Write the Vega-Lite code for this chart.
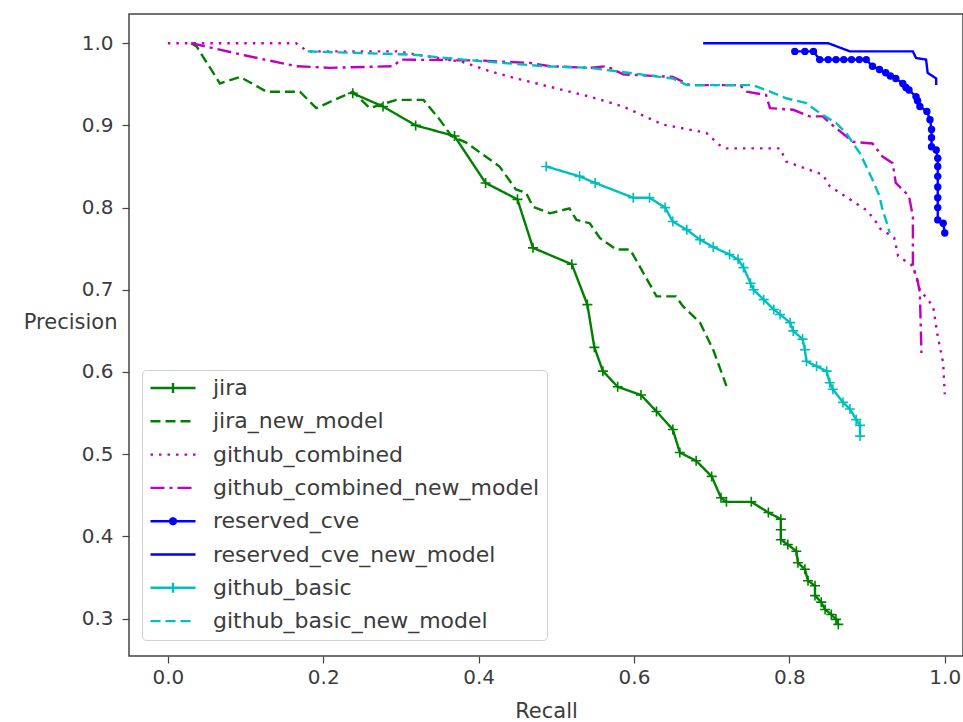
{
  "$schema": "https://vega.github.io/schema/vega-lite/v6.json",
  "width": 834,
  "height": 642,
  "autosize": {"type": "none"},
  "padding": {"left": 129, "top": 14, "right": 0, "bottom": 66},
  "background": "white",
  "config": {
    "view": {"stroke": "#444", "strokeWidth": 1.5},
    "font": "DejaVu Sans"
  },
  "data": {
    "values": [
      {"s": "jira", "x": 0.238, "y": 0.939}, {"s": "jira", "x": 0.277, "y": 0.923}, {"s": "jira", "x": 0.319, "y": 0.900}, {"s": "jira", "x": 0.369, "y": 0.887}, {"s": "jira", "x": 0.409, "y": 0.830}, {"s": "jira", "x": 0.450, "y": 0.810}, {"s": "jira", "x": 0.470, "y": 0.751}, {"s": "jira", "x": 0.520, "y": 0.731}, {"s": "jira", "x": 0.540, "y": 0.682}, {"s": "jira", "x": 0.549, "y": 0.630}, {"s": "jira", "x": 0.560, "y": 0.601}, {"s": "jira", "x": 0.579, "y": 0.582}, {"s": "jira", "x": 0.609, "y": 0.572}, {"s": "jira", "x": 0.629, "y": 0.552}, {"s": "jira", "x": 0.650, "y": 0.530}, {"s": "jira", "x": 0.659, "y": 0.502}, {"s": "jira", "x": 0.680, "y": 0.492}, {"s": "jira", "x": 0.700, "y": 0.473}, {"s": "jira", "x": 0.712, "y": 0.447}, {"s": "jira", "x": 0.719, "y": 0.442}, {"s": "jira", "x": 0.751, "y": 0.442}, {"s": "jira", "x": 0.773, "y": 0.429}, {"s": "jira", "x": 0.789, "y": 0.421}, {"s": "jira", "x": 0.789, "y": 0.408}, {"s": "jira", "x": 0.789, "y": 0.396}, {"s": "jira", "x": 0.798, "y": 0.390}, {"s": "jira", "x": 0.809, "y": 0.382}, {"s": "jira", "x": 0.811, "y": 0.368}, {"s": "jira", "x": 0.820, "y": 0.360}, {"s": "jira", "x": 0.824, "y": 0.346}, {"s": "jira", "x": 0.833, "y": 0.340}, {"s": "jira", "x": 0.833, "y": 0.328}, {"s": "jira", "x": 0.841, "y": 0.320}, {"s": "jira", "x": 0.846, "y": 0.311}, {"s": "jira", "x": 0.854, "y": 0.305}, {"s": "jira", "x": 0.860, "y": 0.299}, {"s": "jira", "x": 0.863, "y": 0.293},

      {"s": "jira_new_model", "x": 0.030, "y": 1.000}, {"s": "jira_new_model", "x": 0.037, "y": 0.996}, {"s": "jira_new_model", "x": 0.067, "y": 0.951}, {"s": "jira_new_model", "x": 0.093, "y": 0.959}, {"s": "jira_new_model", "x": 0.127, "y": 0.941}, {"s": "jira_new_model", "x": 0.170, "y": 0.941}, {"s": "jira_new_model", "x": 0.191, "y": 0.921}, {"s": "jira_new_model", "x": 0.238, "y": 0.941}, {"s": "jira_new_model", "x": 0.260, "y": 0.921}, {"s": "jira_new_model", "x": 0.294, "y": 0.931}, {"s": "jira_new_model", "x": 0.329, "y": 0.931}, {"s": "jira_new_model", "x": 0.350, "y": 0.907}, {"s": "jira_new_model", "x": 0.365, "y": 0.887}, {"s": "jira_new_model", "x": 0.384, "y": 0.879}, {"s": "jira_new_model", "x": 0.427, "y": 0.850}, {"s": "jira_new_model", "x": 0.448, "y": 0.822}, {"s": "jira_new_model", "x": 0.461, "y": 0.818}, {"s": "jira_new_model", "x": 0.470, "y": 0.801}, {"s": "jira_new_model", "x": 0.492, "y": 0.793}, {"s": "jira_new_model", "x": 0.517, "y": 0.799}, {"s": "jira_new_model", "x": 0.526, "y": 0.785}, {"s": "jira_new_model", "x": 0.543, "y": 0.781}, {"s": "jira_new_model", "x": 0.556, "y": 0.763}, {"s": "jira_new_model", "x": 0.577, "y": 0.749}, {"s": "jira_new_model", "x": 0.595, "y": 0.749}, {"s": "jira_new_model", "x": 0.607, "y": 0.729}, {"s": "jira_new_model", "x": 0.629, "y": 0.692}, {"s": "jira_new_model", "x": 0.654, "y": 0.692}, {"s": "jira_new_model", "x": 0.663, "y": 0.680}, {"s": "jira_new_model", "x": 0.685, "y": 0.660}, {"s": "jira_new_model", "x": 0.702, "y": 0.627}, {"s": "jira_new_model", "x": 0.719, "y": 0.583},

      {"s": "github_combined", "x": 0.000, "y": 1.000}, {"s": "github_combined", "x": 0.165, "y": 1.000}, {"s": "github_combined", "x": 0.180, "y": 0.990}, {"s": "github_combined", "x": 0.295, "y": 0.990}, {"s": "github_combined", "x": 0.380, "y": 0.977}, {"s": "github_combined", "x": 0.414, "y": 0.966}, {"s": "github_combined", "x": 0.449, "y": 0.957}, {"s": "github_combined", "x": 0.483, "y": 0.949}, {"s": "github_combined", "x": 0.543, "y": 0.935}, {"s": "github_combined", "x": 0.586, "y": 0.923}, {"s": "github_combined", "x": 0.637, "y": 0.901}, {"s": "github_combined", "x": 0.693, "y": 0.891}, {"s": "github_combined", "x": 0.710, "y": 0.876}, {"s": "github_combined", "x": 0.719, "y": 0.872}, {"s": "github_combined", "x": 0.788, "y": 0.872}, {"s": "github_combined", "x": 0.796, "y": 0.856}, {"s": "github_combined", "x": 0.843, "y": 0.840}, {"s": "github_combined", "x": 0.852, "y": 0.826}, {"s": "github_combined", "x": 0.899, "y": 0.797}, {"s": "github_combined", "x": 0.910, "y": 0.785}, {"s": "github_combined", "x": 0.916, "y": 0.775}, {"s": "github_combined", "x": 0.935, "y": 0.763}, {"s": "github_combined", "x": 0.940, "y": 0.741}, {"s": "github_combined", "x": 0.959, "y": 0.729}, {"s": "github_combined", "x": 0.968, "y": 0.700}, {"s": "github_combined", "x": 0.985, "y": 0.680}, {"s": "github_combined", "x": 0.991, "y": 0.643}, {"s": "github_combined", "x": 0.998, "y": 0.611}, {"s": "github_combined", "x": 1.000, "y": 0.573},

      {"s": "github_combined_new_model", "x": 0.030, "y": 1.000}, {"s": "github_combined_new_model", "x": 0.100, "y": 0.985}, {"s": "github_combined_new_model", "x": 0.165, "y": 0.972}, {"s": "github_combined_new_model", "x": 0.208, "y": 0.970}, {"s": "github_combined_new_model", "x": 0.290, "y": 0.972}, {"s": "github_combined_new_model", "x": 0.300, "y": 0.980}, {"s": "github_combined_new_model", "x": 0.400, "y": 0.979}, {"s": "github_combined_new_model", "x": 0.466, "y": 0.976}, {"s": "github_combined_new_model", "x": 0.492, "y": 0.972}, {"s": "github_combined_new_model", "x": 0.543, "y": 0.970}, {"s": "github_combined_new_model", "x": 0.565, "y": 0.972}, {"s": "github_combined_new_model", "x": 0.586, "y": 0.962}, {"s": "github_combined_new_model", "x": 0.650, "y": 0.959}, {"s": "github_combined_new_model", "x": 0.672, "y": 0.949}, {"s": "github_combined_new_model", "x": 0.736, "y": 0.949}, {"s": "github_combined_new_model", "x": 0.745, "y": 0.941}, {"s": "github_combined_new_model", "x": 0.770, "y": 0.937}, {"s": "github_combined_new_model", "x": 0.775, "y": 0.921}, {"s": "github_combined_new_model", "x": 0.805, "y": 0.919}, {"s": "github_combined_new_model", "x": 0.826, "y": 0.911}, {"s": "github_combined_new_model", "x": 0.843, "y": 0.911}, {"s": "github_combined_new_model", "x": 0.852, "y": 0.903}, {"s": "github_combined_new_model", "x": 0.882, "y": 0.880}, {"s": "github_combined_new_model", "x": 0.907, "y": 0.878}, {"s": "github_combined_new_model", "x": 0.920, "y": 0.862}, {"s": "github_combined_new_model", "x": 0.933, "y": 0.854}, {"s": "github_combined_new_model", "x": 0.937, "y": 0.830}, {"s": "github_combined_new_model", "x": 0.954, "y": 0.814}, {"s": "github_combined_new_model", "x": 0.959, "y": 0.789}, {"s": "github_combined_new_model", "x": 0.959, "y": 0.729}, {"s": "github_combined_new_model", "x": 0.965, "y": 0.712}, {"s": "github_combined_new_model", "x": 0.968, "y": 0.696}, {"s": "github_combined_new_model", "x": 0.970, "y": 0.623},

      {"s": "reserved_cve", "x": 0.807, "y": 0.990}, {"s": "reserved_cve", "x": 0.820, "y": 0.990}, {"s": "reserved_cve", "x": 0.831, "y": 0.990}, {"s": "reserved_cve", "x": 0.839, "y": 0.980}, {"s": "reserved_cve", "x": 0.850, "y": 0.980}, {"s": "reserved_cve", "x": 0.860, "y": 0.980}, {"s": "reserved_cve", "x": 0.870, "y": 0.980}, {"s": "reserved_cve", "x": 0.880, "y": 0.980}, {"s": "reserved_cve", "x": 0.890, "y": 0.980}, {"s": "reserved_cve", "x": 0.899, "y": 0.980}, {"s": "reserved_cve", "x": 0.907, "y": 0.972}, {"s": "reserved_cve", "x": 0.916, "y": 0.968}, {"s": "reserved_cve", "x": 0.924, "y": 0.964}, {"s": "reserved_cve", "x": 0.930, "y": 0.960}, {"s": "reserved_cve", "x": 0.937, "y": 0.957}, {"s": "reserved_cve", "x": 0.946, "y": 0.951}, {"s": "reserved_cve", "x": 0.950, "y": 0.946}, {"s": "reserved_cve", "x": 0.954, "y": 0.943}, {"s": "reserved_cve", "x": 0.963, "y": 0.935}, {"s": "reserved_cve", "x": 0.965, "y": 0.930}, {"s": "reserved_cve", "x": 0.968, "y": 0.923}, {"s": "reserved_cve", "x": 0.977, "y": 0.917}, {"s": "reserved_cve", "x": 0.981, "y": 0.907}, {"s": "reserved_cve", "x": 0.983, "y": 0.895}, {"s": "reserved_cve", "x": 0.983, "y": 0.885}, {"s": "reserved_cve", "x": 0.983, "y": 0.874}, {"s": "reserved_cve", "x": 0.989, "y": 0.870}, {"s": "reserved_cve", "x": 0.991, "y": 0.860}, {"s": "reserved_cve", "x": 0.991, "y": 0.850}, {"s": "reserved_cve", "x": 0.991, "y": 0.838}, {"s": "reserved_cve", "x": 0.991, "y": 0.825}, {"s": "reserved_cve", "x": 0.991, "y": 0.812}, {"s": "reserved_cve", "x": 0.991, "y": 0.800}, {"s": "reserved_cve", "x": 0.991, "y": 0.785}, {"s": "reserved_cve", "x": 0.998, "y": 0.781}, {"s": "reserved_cve", "x": 1.000, "y": 0.769},

      {"s": "reserved_cve_new_model", "x": 0.689, "y": 1.000}, {"s": "reserved_cve_new_model", "x": 0.850, "y": 1.000}, {"s": "reserved_cve_new_model", "x": 0.878, "y": 0.990}, {"s": "reserved_cve_new_model", "x": 0.959, "y": 0.990}, {"s": "reserved_cve_new_model", "x": 0.963, "y": 0.982}, {"s": "reserved_cve_new_model", "x": 0.976, "y": 0.980}, {"s": "reserved_cve_new_model", "x": 0.978, "y": 0.964}, {"s": "reserved_cve_new_model", "x": 0.989, "y": 0.957}, {"s": "reserved_cve_new_model", "x": 0.989, "y": 0.949},

      {"s": "github_basic", "x": 0.487, "y": 0.850}, {"s": "github_basic", "x": 0.530, "y": 0.838}, {"s": "github_basic", "x": 0.550, "y": 0.830}, {"s": "github_basic", "x": 0.599, "y": 0.812}, {"s": "github_basic", "x": 0.620, "y": 0.812}, {"s": "github_basic", "x": 0.640, "y": 0.800}, {"s": "github_basic", "x": 0.650, "y": 0.783}, {"s": "github_basic", "x": 0.668, "y": 0.773}, {"s": "github_basic", "x": 0.685, "y": 0.761}, {"s": "github_basic", "x": 0.702, "y": 0.752}, {"s": "github_basic", "x": 0.723, "y": 0.743}, {"s": "github_basic", "x": 0.734, "y": 0.737}, {"s": "github_basic", "x": 0.741, "y": 0.727}, {"s": "github_basic", "x": 0.750, "y": 0.708}, {"s": "github_basic", "x": 0.754, "y": 0.700}, {"s": "github_basic", "x": 0.767, "y": 0.688}, {"s": "github_basic", "x": 0.780, "y": 0.676}, {"s": "github_basic", "x": 0.788, "y": 0.670}, {"s": "github_basic", "x": 0.801, "y": 0.660}, {"s": "github_basic", "x": 0.805, "y": 0.650}, {"s": "github_basic", "x": 0.817, "y": 0.640}, {"s": "github_basic", "x": 0.820, "y": 0.627}, {"s": "github_basic", "x": 0.822, "y": 0.613}, {"s": "github_basic", "x": 0.835, "y": 0.607}, {"s": "github_basic", "x": 0.848, "y": 0.601}, {"s": "github_basic", "x": 0.852, "y": 0.587}, {"s": "github_basic", "x": 0.856, "y": 0.579}, {"s": "github_basic", "x": 0.869, "y": 0.563}, {"s": "github_basic", "x": 0.878, "y": 0.555}, {"s": "github_basic", "x": 0.886, "y": 0.542}, {"s": "github_basic", "x": 0.891, "y": 0.535}, {"s": "github_basic", "x": 0.891, "y": 0.522},

      {"s": "github_basic_new_model", "x": 0.180, "y": 0.990}, {"s": "github_basic_new_model", "x": 0.316, "y": 0.986}, {"s": "github_basic_new_model", "x": 0.380, "y": 0.980}, {"s": "github_basic_new_model", "x": 0.483, "y": 0.972}, {"s": "github_basic_new_model", "x": 0.543, "y": 0.970}, {"s": "github_basic_new_model", "x": 0.650, "y": 0.957}, {"s": "github_basic_new_model", "x": 0.668, "y": 0.949}, {"s": "github_basic_new_model", "x": 0.753, "y": 0.949}, {"s": "github_basic_new_model", "x": 0.775, "y": 0.941}, {"s": "github_basic_new_model", "x": 0.796, "y": 0.933}, {"s": "github_basic_new_model", "x": 0.822, "y": 0.927}, {"s": "github_basic_new_model", "x": 0.839, "y": 0.915}, {"s": "github_basic_new_model", "x": 0.860, "y": 0.903}, {"s": "github_basic_new_model", "x": 0.873, "y": 0.891}, {"s": "github_basic_new_model", "x": 0.882, "y": 0.878}, {"s": "github_basic_new_model", "x": 0.891, "y": 0.866}, {"s": "github_basic_new_model", "x": 0.899, "y": 0.850}, {"s": "github_basic_new_model", "x": 0.907, "y": 0.834}, {"s": "github_basic_new_model", "x": 0.916, "y": 0.814}, {"s": "github_basic_new_model", "x": 0.920, "y": 0.797}, {"s": "github_basic_new_model", "x": 0.927, "y": 0.777}, {"s": "github_basic_new_model", "x": 0.929, "y": 0.769}
    ]
  },
  "encoding": {
    "x": {
      "field": "x", "type": "quantitative",
      "scale": {"domain": [-0.05, 1.0235], "nice": false, "zero": false},
      "axis": {
        "values": [0, 0.2, 0.4, 0.6, 0.8, 1.0], "format": ".1f", "title": "Recall",
        "grid": false, "domain": false, "tickSize": 7, "tickColor": "#444", "tickWidth": 1.2,
        "labelFontSize": 20, "labelColor": "#3c3c3c", "labelPadding": 4, "labelFlush": false,
        "titleFontSize": 21, "titleFontWeight": "normal", "titleColor": "#3c3c3c", "titlePadding": 13
      }
    },
    "y": {
      "field": "y", "type": "quantitative",
      "scale": {"domain": [0.2545, 1.0355], "nice": false, "zero": false},
      "axis": {
        "values": [0.3, 0.4, 0.5, 0.6, 0.7, 0.8, 0.9, 1.0], "format": ".1f", "title": "Precision",
        "grid": false, "domain": false, "tickSize": 7, "tickColor": "#444", "tickWidth": 1.2,
        "labelFontSize": 20, "labelColor": "#3c3c3c", "labelPadding": 9, "labelFlush": false,
        "titleFontSize": 21, "titleFontWeight": "normal", "titleColor": "#3c3c3c",
        "titleAngle": 0, "titleAlign": "right", "titleBaseline": "middle", "titleX": -12, "titleY": 308
      }
    }
  },
  "layer": [
    {
      "mark": {"type": "line", "strokeWidth": 2.4, "clip": true},
      "encoding": {
        "color": {
          "field": "s", "type": "nominal",
          "scale": {
            "domain": ["jira", "jira_new_model", "github_combined", "github_combined_new_model", "reserved_cve", "reserved_cve_new_model", "github_basic", "github_basic_new_model"],
            "range": ["#008000", "#008000", "#bf00bf", "#bf00bf", "#0000ff", "#0000ff", "#00bfbf", "#00bfbf"]
          },
          "legend": {
            "title": null, "orient": "none", "legendX": 13, "legendY": 356,
            "symbolType": "stroke", "symbolSize": 2025, "symbolStrokeWidth": 2.4, "symbolOffset": 0,
            "clipHeight": 22, "rowPadding": 11.3, "padding": 7,
            "labelFontSize": 22, "labelColor": "#3c3c3c", "labelOffset": 16, "labelLimit": 500,
            "strokeColor": "#d0d0d0", "fillColor": "white", "cornerRadius": 4,
            "encode": {
              "symbols": {
                "update": {
                  "shape": {"signal": "datum.value === 'jira' || datum.value === 'github_basic' ? 'M-1,0H1M0,-0.22V0.22' : datum.value === 'reserved_cve' ? 'M-1,0H1M-0.13,0A0.13,0.13,0,1,1,0.13,0A0.13,0.13,0,1,1,-0.13,0Z' : 'stroke'"},
                  "fill": {"signal": "datum.value === 'reserved_cve' ? '#0000ff' : 'transparent'"},
                  "strokeDash": {"signal": "datum.value === 'jira_new_model' || datum.value === 'github_basic_new_model' ? [10, 5] : datum.value === 'github_combined' ? [2.5, 6] : datum.value === 'github_combined_new_model' ? [14, 5, 3, 5] : [1, 0]"}
                }
              }
            }
          }
        },
        "strokeDash": {
          "field": "s", "type": "nominal",
          "scale": {
            "domain": ["jira", "jira_new_model", "github_combined", "github_combined_new_model", "reserved_cve", "reserved_cve_new_model", "github_basic", "github_basic_new_model"],
            "range": [[1, 0], [10, 5], [2.5, 6], [14, 5, 3, 5], [1, 0], [1, 0], [1, 0], [10, 5]]
          },
          "legend": null
        },
        "order": {"value": null}
      }
    },
    {
      "transform": [{"filter": "datum.s === 'jira'"}],
      "mark": {"type": "point", "shape": "M-1,0H1M0,-1V1", "filled": false, "size": 100, "strokeWidth": 1.6, "color": "#008000", "opacity": 1, "clip": true},
      "encoding": {}
    },
    {
      "transform": [{"filter": "datum.s === 'github_basic'"}],
      "mark": {"type": "point", "shape": "M-1,0H1M0,-1V1", "filled": false, "size": 100, "strokeWidth": 1.6, "color": "#00bfbf", "opacity": 1, "clip": true},
      "encoding": {}
    },
    {
      "transform": [{"filter": "datum.s === 'reserved_cve'"}],
      "mark": {"type": "point", "shape": "circle", "filled": true, "size": 55, "color": "#0000ff", "opacity": 1, "clip": true},
      "encoding": {}
    }
  ]
}
